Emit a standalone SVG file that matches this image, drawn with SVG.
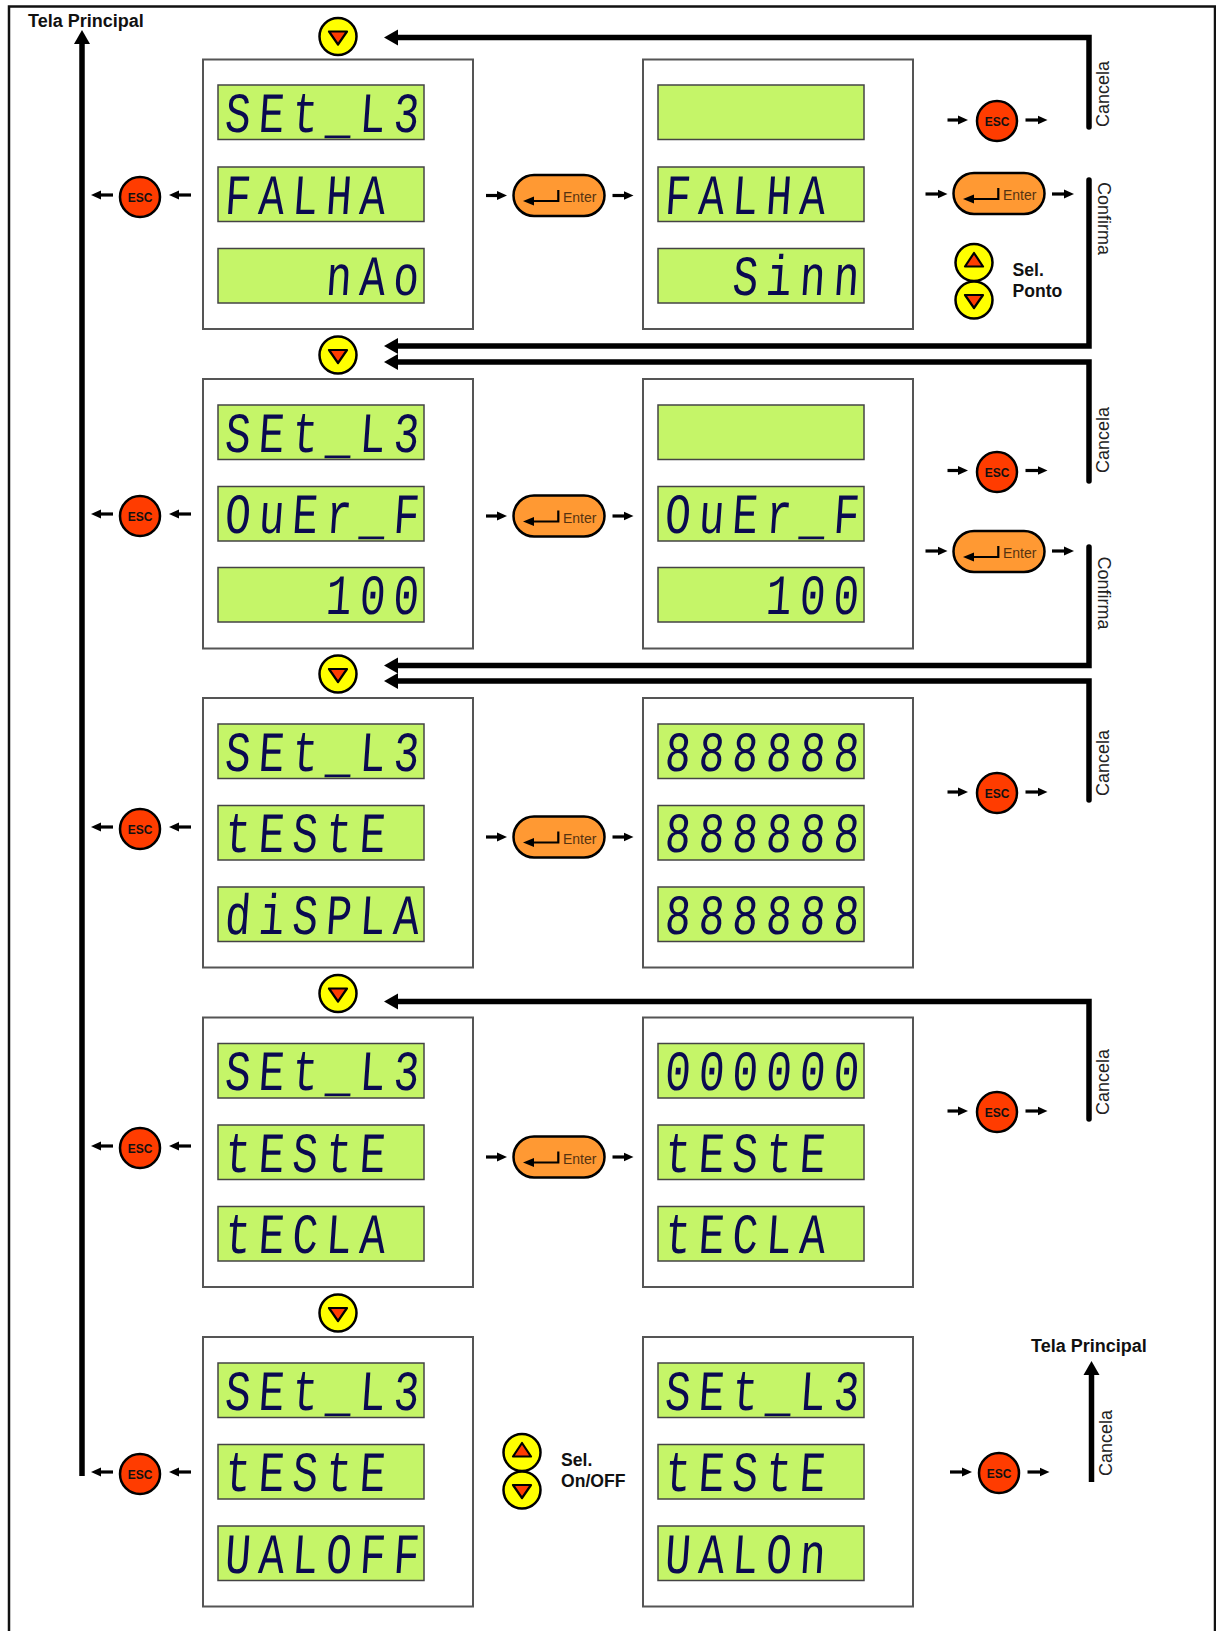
<svg xmlns="http://www.w3.org/2000/svg" width="1216" height="1631" viewBox="0 0 1216 1631">
<style>
.panel{fill:#fff;stroke:#555;stroke-width:2}
.lcd{fill:#c5f568;stroke:#444;stroke-width:1.5}
.d{font-family:"Liberation Mono",monospace;font-size:57px;fill:#0a0a50;letter-spacing:10.7px}
.big{fill:none;stroke:#000;stroke-width:5.5;stroke-linecap:round}
.main{fill:none;stroke:#000;stroke-width:5.5}
.head{marker-end:url(#hb)}
.sm{stroke:#000;stroke-width:3.2;marker-end:url(#hs)}
.esc{fill:#ff3c00;stroke:#000;stroke-width:2.5}
.esct{font-family:"Liberation Sans",Arial,sans-serif;font-weight:700;font-size:12px;text-anchor:middle;fill:#111}
.ent{fill:#ff9933;stroke:#000;stroke-width:2.5}
.entt{font-family:"Liberation Sans",Arial,sans-serif;font-size:14px;fill:#553311}
.ykey{fill:#ffff00;stroke:#000;stroke-width:2.5}
.tri{fill:#ff3c00;stroke:#000;stroke-width:2.2;stroke-linejoin:round}
.b{font-family:"Liberation Sans",Arial,sans-serif;font-weight:700;font-size:18px;fill:#111}
.s{font-size:17.6px}
.r{font-family:"Liberation Sans",Arial,sans-serif;font-size:18px;fill:#222}
</style>
<defs>
<marker id="hb" markerUnits="userSpaceOnUse" viewBox="0 -9 14 18" markerWidth="14" markerHeight="18" refX="4" refY="0" orient="auto"><path d="M0,-8L14,0L0,8z"/></marker>
<marker id="hs" markerUnits="userSpaceOnUse" viewBox="0 -5 10 10" markerWidth="10" markerHeight="10" refX="2" refY="0" orient="auto"><path d="M0,-4.500L10,0L0,4.500z"/></marker>
<g id="esc"><circle class="esc" r="20"/><text class="esct" y="4.500">ESC</text></g>
<g id="enter"><rect class="ent" x="-45.500" y="-20.500" width="91" height="41" rx="20.500"/><path d="M-.7,-5.500V5.500H-28" fill="none" stroke="#000" stroke-width="2.200"/><path d="M-36,5.500L-25,1V10z"/><text class="entt" x="4" y="6.500">Enter</text></g>
<g id="up"><circle class="ykey" r="18.500"/><path class="tri" d="M-9,4L0,-9.500L9,4z"/></g>
<g id="dn"><circle class="ykey" r="18.500"/><path class="tri" d="M-9,-5H9L0,8z"/></g>
</defs>
<rect width="1216" height="1631" fill="#fff"/>
<path id="frame" d="M9,1631V6.500H1215V1631" fill="none" stroke="#111" stroke-width="2.500"/>

<g id="panel-1-left"><rect class="panel" x="203" y="59.500" width="270" height="269.500"/>
<rect class="lcd" x="218" y="85" width="206" height="54.500"/><text class="d" transform="translate(224,131.700) skewX(-4) scale(.75,1)">SEt_L3</text>
<rect class="lcd" x="218" y="167" width="206" height="54.500"/><text class="d" transform="translate(224,213.700) skewX(-4) scale(.75,1)">FALHA</text>
<rect class="lcd" x="218" y="248.500" width="206" height="54.500"/><text class="d" transform="translate(325,295.200) skewX(-4) scale(.75,1)">nAo</text></g>
<g id="panel-1-right"><rect class="panel" x="643" y="59.500" width="270" height="269.500"/>
<rect class="lcd" x="658" y="85" width="206" height="54.500"/>
<rect class="lcd" x="658" y="167" width="206" height="54.500"/><text class="d" transform="translate(664,213.700) skewX(-4) scale(.75,1)">FALHA</text>
<rect class="lcd" x="658" y="248.500" width="206" height="54.500"/><text class="d" transform="translate(731.400,295.200) skewX(-4) scale(.75,1)">Sinn</text></g>

<g id="panel-2-left"><rect class="panel" x="203" y="379" width="270" height="269.500"/>
<rect class="lcd" x="218" y="405" width="206" height="54.500"/><text class="d" transform="translate(224,451.700) skewX(-4) scale(.75,1)">SEt_L3</text>
<rect class="lcd" x="218" y="486.500" width="206" height="54.500"/><text class="d" transform="translate(224,533.200) skewX(-4) scale(.75,1)">OuEr_F</text>
<rect class="lcd" x="218" y="567.500" width="206" height="54.500"/><text class="d" transform="translate(325,614.200) skewX(-4) scale(.75,1)">100</text></g>
<g id="panel-2-right"><rect class="panel" x="643" y="379" width="270" height="269.500"/>
<rect class="lcd" x="658" y="405" width="206" height="54.500"/>
<rect class="lcd" x="658" y="486.500" width="206" height="54.500"/><text class="d" transform="translate(664,533.200) skewX(-4) scale(.75,1)">OuEr_F</text>
<rect class="lcd" x="658" y="567.500" width="206" height="54.500"/><text class="d" transform="translate(765,614.200) skewX(-4) scale(.75,1)">100</text></g>

<g id="panel-3-left"><rect class="panel" x="203" y="698" width="270" height="269.500"/>
<rect class="lcd" x="218" y="724" width="206" height="54.500"/><text class="d" transform="translate(224,770.700) skewX(-4) scale(.75,1)">SEt_L3</text>
<rect class="lcd" x="218" y="805.500" width="206" height="54.500"/><text class="d" transform="translate(224,852.200) skewX(-4) scale(.75,1)">tEStE</text>
<rect class="lcd" x="218" y="887" width="206" height="54.500"/><text class="d" transform="translate(224,933.700) skewX(-4) scale(.75,1)">diSPLA</text></g>
<g id="panel-3-right"><rect class="panel" x="643" y="698" width="270" height="269.500"/>
<rect class="lcd" x="658" y="724" width="206" height="54.500"/><text class="d" transform="translate(664,770.700) skewX(-4) scale(.75,1)">888888</text>
<rect class="lcd" x="658" y="805.500" width="206" height="54.500"/><text class="d" transform="translate(664,852.200) skewX(-4) scale(.75,1)">888888</text>
<rect class="lcd" x="658" y="887" width="206" height="54.500"/><text class="d" transform="translate(664,933.700) skewX(-4) scale(.75,1)">888888</text></g>

<g id="panel-4-left"><rect class="panel" x="203" y="1017.500" width="270" height="269.500"/>
<rect class="lcd" x="218" y="1043.500" width="206" height="54.500"/><text class="d" transform="translate(224,1090.200) skewX(-4) scale(.75,1)">SEt_L3</text>
<rect class="lcd" x="218" y="1125" width="206" height="54.500"/><text class="d" transform="translate(224,1171.700) skewX(-4) scale(.75,1)">tEStE</text>
<rect class="lcd" x="218" y="1206.500" width="206" height="54.500"/><text class="d" transform="translate(224,1253.200) skewX(-4) scale(.75,1)">tECLA</text></g>
<g id="panel-4-right"><rect class="panel" x="643" y="1017.500" width="270" height="269.500"/>
<rect class="lcd" x="658" y="1043.500" width="206" height="54.500"/><text class="d" transform="translate(664,1090.200) skewX(-4) scale(.75,1)">000000</text>
<rect class="lcd" x="658" y="1125" width="206" height="54.500"/><text class="d" transform="translate(664,1171.700) skewX(-4) scale(.75,1)">tEStE</text>
<rect class="lcd" x="658" y="1206.500" width="206" height="54.500"/><text class="d" transform="translate(664,1253.200) skewX(-4) scale(.75,1)">tECLA</text></g>

<g id="panel-5-left"><rect class="panel" x="203" y="1337" width="270" height="269.500"/>
<rect class="lcd" x="218" y="1363" width="206" height="54.500"/><text class="d" transform="translate(224,1409.700) skewX(-4) scale(.75,1)">SEt_L3</text>
<rect class="lcd" x="218" y="1444.500" width="206" height="54.500"/><text class="d" transform="translate(224,1491.200) skewX(-4) scale(.75,1)">tEStE</text>
<rect class="lcd" x="218" y="1526" width="206" height="54.500"/><text class="d" transform="translate(224,1572.700) skewX(-4) scale(.75,1)">UALOFF</text></g>
<g id="panel-5-right"><rect class="panel" x="643" y="1337" width="270" height="269.500"/>
<rect class="lcd" x="658" y="1363" width="206" height="54.500"/><text class="d" transform="translate(664,1409.700) skewX(-4) scale(.75,1)">SEt_L3</text>
<rect class="lcd" x="658" y="1444.500" width="206" height="54.500"/><text class="d" transform="translate(664,1491.200) skewX(-4) scale(.75,1)">tEStE</text>
<rect class="lcd" x="658" y="1526" width="206" height="54.500"/><text class="d" transform="translate(664,1572.700) skewX(-4) scale(.75,1)">UALOn</text></g>

<g id="connectors">
<path class="main head" d="M82,1476V40"/>
<path class="main head" d="M1091.500,1482V1371"/>
<path class="big head" d="M1089,127V37.500H394"/>
<path class="big head" d="M1089,180V346H394"/>
<path class="big head" d="M1089,481V362H394"/>
<path class="big head" d="M1089,547V665.500H394"/>
<path class="big head" d="M1089,800V681H394"/>
<path class="big head" d="M1089,1119V1001.500H394"/>
<g id="small-left">
<line class="sm" x1="113" y1="195" x2="99" y2="195"/><line class="sm" x1="191" y1="195" x2="177" y2="195"/>
<line class="sm" x1="113" y1="514" x2="99" y2="514"/><line class="sm" x1="191" y1="514" x2="177" y2="514"/>
<line class="sm" x1="113" y1="827" x2="99" y2="827"/><line class="sm" x1="191" y1="827" x2="177" y2="827"/>
<line class="sm" x1="113" y1="1146" x2="99" y2="1146"/><line class="sm" x1="191" y1="1146" x2="177" y2="1146"/>
<line class="sm" x1="113" y1="1472" x2="99" y2="1472"/><line class="sm" x1="191" y1="1472" x2="177" y2="1472"/>
</g>
<g id="small-mid">
<line class="sm" x1="486" y1="195.500" x2="499" y2="195.500"/><line class="sm" x1="612.500" y1="195.500" x2="625.500" y2="195.500"/>
<line class="sm" x1="486" y1="516" x2="499" y2="516"/><line class="sm" x1="612.500" y1="516" x2="625.500" y2="516"/>
<line class="sm" x1="486" y1="837" x2="499" y2="837"/><line class="sm" x1="612.500" y1="837" x2="625.500" y2="837"/>
<line class="sm" x1="486" y1="1157" x2="499" y2="1157"/><line class="sm" x1="612.500" y1="1157" x2="625.500" y2="1157"/>
</g>
<g id="small-right">
<line class="sm" x1="947.500" y1="120" x2="960" y2="120"/><line class="sm" x1="1025.500" y1="120" x2="1039.500" y2="120"/>
<line class="sm" x1="925.500" y1="194" x2="939.500" y2="194"/><line class="sm" x1="1052" y1="194" x2="1066" y2="194"/>
<line class="sm" x1="947.500" y1="470.500" x2="960" y2="470.500"/><line class="sm" x1="1025.500" y1="470.500" x2="1039.500" y2="470.500"/>
<line class="sm" x1="925.500" y1="551" x2="939.500" y2="551"/><line class="sm" x1="1052" y1="551" x2="1066" y2="551"/>
<line class="sm" x1="947.500" y1="792" x2="960" y2="792"/><line class="sm" x1="1025.500" y1="792" x2="1039.500" y2="792"/>
<line class="sm" x1="947.500" y1="1111" x2="960" y2="1111"/><line class="sm" x1="1025.500" y1="1111" x2="1039.500" y2="1111"/>
<line class="sm" x1="950" y1="1472" x2="964" y2="1472"/><line class="sm" x1="1027.500" y1="1472" x2="1041.500" y2="1472"/>
</g>
</g>

<g id="esc-left-1"><use href="#esc" x="140" y="197"/></g>
<g id="esc-left-2"><use href="#esc" x="140" y="516"/></g>
<g id="esc-left-3"><use href="#esc" x="140" y="829"/></g>
<g id="esc-left-4"><use href="#esc" x="140" y="1148"/></g>
<g id="esc-left-5"><use href="#esc" x="140" y="1474"/></g>
<g id="esc-right-1"><use href="#esc" x="997" y="121"/></g>
<g id="esc-right-2"><use href="#esc" x="997" y="472"/></g>
<g id="esc-right-3"><use href="#esc" x="997" y="793"/></g>
<g id="esc-right-4"><use href="#esc" x="997" y="1112"/></g>
<g id="esc-right-5"><use href="#esc" x="999" y="1473"/></g>
<g id="enter-mid-1"><use href="#enter" x="559" y="195.500"/></g>
<g id="enter-mid-2"><use href="#enter" x="559" y="516"/></g>
<g id="enter-mid-3"><use href="#enter" x="559" y="837"/></g>
<g id="enter-mid-4"><use href="#enter" x="559" y="1157"/></g>
<g id="enter-right-1"><use href="#enter" x="999" y="193.500"/></g>
<g id="enter-right-2"><use href="#enter" x="999" y="551.500"/></g>
<g id="down-1"><use href="#dn" x="338" y="36.500"/></g>
<g id="down-2"><use href="#dn" x="338" y="355"/></g>
<g id="down-3"><use href="#dn" x="338" y="674"/></g>
<g id="down-4"><use href="#dn" x="338" y="993.500"/></g>
<g id="down-5"><use href="#dn" x="338" y="1313"/></g>
<g id="sel-ponto"><use href="#up" x="974" y="262.500"/><use href="#dn" x="974" y="300"/>
<text class="b s" x="1012.500" y="276">Sel.</text><text class="b s" x="1012.500" y="297">Ponto</text></g>
<g id="sel-onoff"><use href="#up" x="522" y="1452.500"/><use href="#dn" x="522" y="1490"/>
<text class="b s" x="561" y="1465.500">Sel.</text><text class="b s" x="561" y="1486.500">On/OFF</text></g>

<g id="labels">
<text class="b" x="28" y="26.500">Tela Principal</text>
<text class="b" x="1031" y="1352">Tela Principal</text>
<text class="r" transform="translate(1109,127) rotate(-90)">Cancela</text>
<text class="r" transform="translate(1109,473) rotate(-90)">Cancela</text>
<text class="r" transform="translate(1109,796) rotate(-90)">Cancela</text>
<text class="r" transform="translate(1109,1115) rotate(-90)">Cancela</text>
<text class="r" transform="translate(1111.500,1476) rotate(-90)">Cancela</text>
<text class="r" transform="translate(1097.500,182) rotate(90)">Confirma</text>
<text class="r" transform="translate(1097.500,556.500) rotate(90)">Confirma</text>
</g>
</svg>
